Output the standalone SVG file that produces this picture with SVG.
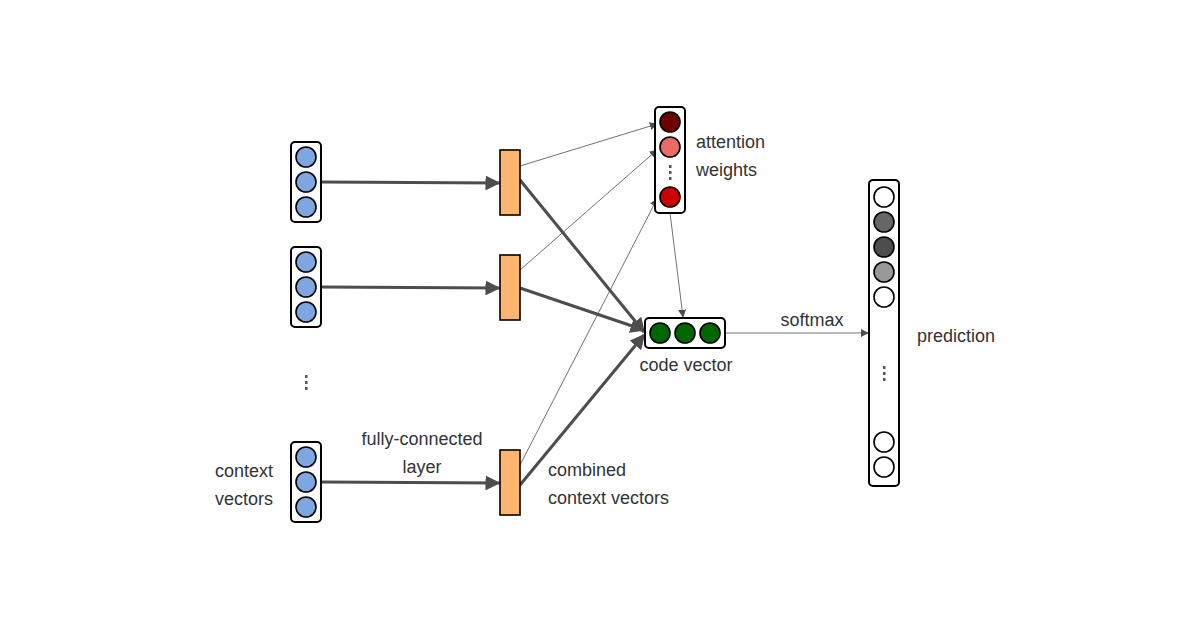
<svg xmlns="http://www.w3.org/2000/svg" width="1200" height="630" viewBox="0 0 1200 630">
<defs>
<style>
.box{fill:#fff;stroke:#000;stroke-width:2}
.c{stroke:#000;stroke-width:1.6}
.or{fill:#FFB570;stroke:#000;stroke-width:1.6}
.thick{stroke:#4d4d4d;stroke-width:3;fill:none}
.thin{stroke:#4d4d4d;stroke-width:0.8;fill:none}
text{font-family:"Liberation Sans",Arial,sans-serif;font-size:18px;fill:#333}
.dot{fill:#555}
</style>
<marker id="ab" viewBox="0 0 10 10" refX="9" refY="5" markerWidth="5" markerHeight="5" orient="auto" markerUnits="strokeWidth"><path d="M0,0L10,5L0,10z" fill="#4d4d4d"/></marker>
<marker id="as" viewBox="0 0 10 10" refX="9" refY="5" markerWidth="10" markerHeight="10" orient="auto" markerUnits="strokeWidth"><path d="M0,0L10,5L0,10z" fill="#4d4d4d"/></marker>
</defs>
<rect width="1200" height="630" fill="#fff"/>
<g id="connectors">
<path class="thick" marker-end="url(#ab)" d="M321,182L499,183"/>
<path class="thick" marker-end="url(#ab)" d="M321,287L499,288"/>
<path class="thick" marker-end="url(#ab)" d="M321,482L499,483"/>
<path class="thick" marker-end="url(#ab)" d="M520,180L644,332"/>
<path class="thick" marker-end="url(#ab)" d="M520,288L644,330"/>
<path class="thick" marker-end="url(#ab)" d="M520,485L644,335"/>
<path class="thin" marker-end="url(#as)" d="M520,166L657,124"/>
<path class="thin" marker-end="url(#as)" d="M520,270L657,150"/>
<path class="thin" marker-end="url(#as)" d="M520,465L657,199"/>
<path class="thin" marker-end="url(#as)" d="M670,213L683,317"/>
<path class="thin" marker-end="url(#as)" d="M725,333L868,333"/>
</g>
<g id="ctx1"><rect class="box" x="291" y="142" width="30" height="80" rx="4"/><circle class="c" cx="306" cy="157" r="10" fill="#7EA6E0"/><circle class="c" cx="306" cy="182" r="10" fill="#7EA6E0"/><circle class="c" cx="306" cy="207" r="10" fill="#7EA6E0"/></g>
<g id="ctx2"><rect class="box" x="291" y="247" width="30" height="80" rx="4"/><circle class="c" cx="306" cy="262" r="10" fill="#7EA6E0"/><circle class="c" cx="306" cy="287" r="10" fill="#7EA6E0"/><circle class="c" cx="306" cy="312" r="10" fill="#7EA6E0"/></g>
<g id="ctxdots"><rect class="dot" x="305" y="375" width="2.5" height="3"/><rect class="dot" x="305" y="381" width="2.5" height="3"/><rect class="dot" x="305" y="387" width="2.5" height="3"/></g>
<g id="ctx3"><rect class="box" x="291" y="442" width="30" height="80" rx="4"/><circle class="c" cx="306" cy="457" r="10" fill="#7EA6E0"/><circle class="c" cx="306" cy="482" r="10" fill="#7EA6E0"/><circle class="c" cx="306" cy="507" r="10" fill="#7EA6E0"/></g>
<g id="fc1"><rect class="or" x="500" y="150" width="20" height="65"/></g>
<g id="fc2"><rect class="or" x="500" y="255" width="20" height="65"/></g>
<g id="fc3"><rect class="or" x="500" y="450" width="20" height="65"/></g>
<g id="attention"><rect class="box" x="655" y="107" width="30" height="106" rx="4"/><circle class="c" cx="670" cy="122" r="10" fill="#6F0000"/><circle class="c" cx="670" cy="147" r="10" fill="#EA6B66"/><rect class="dot" x="669" y="165" width="2.5" height="3"/><rect class="dot" x="669" y="171" width="2.5" height="3"/><rect class="dot" x="669" y="177" width="2.5" height="3"/><circle class="c" cx="670" cy="197" r="10" fill="#CC0000"/></g>
<g id="code"><rect class="box" x="645" y="318" width="80" height="30" rx="4"/><circle class="c" cx="660" cy="333" r="10" fill="#006600"/><circle class="c" cx="685" cy="333" r="10" fill="#006600"/><circle class="c" cx="710" cy="333" r="10" fill="#006600"/></g>
<g id="prediction"><rect class="box" x="869" y="180" width="30" height="306" rx="4"/>
<circle class="c" cx="884" cy="197" r="10" fill="#fff"/><circle class="c" cx="884" cy="222" r="10" fill="#666"/><circle class="c" cx="884" cy="247" r="10" fill="#4d4d4d"/><circle class="c" cx="884" cy="272" r="10" fill="#999"/><circle class="c" cx="884" cy="297" r="10" fill="#fff"/>
<rect class="dot" x="883" y="366" width="2.5" height="3"/><rect class="dot" x="883" y="372" width="2.5" height="3"/><rect class="dot" x="883" y="378" width="2.5" height="3"/>
<circle class="c" cx="884" cy="442" r="10" fill="#fff"/><circle class="c" cx="884" cy="467" r="10" fill="#fff"/></g>
<g id="labels">
<text x="696" y="148">attention</text><text x="696" y="176">weights</text>
<text x="686" y="371" text-anchor="middle">code vector</text>
<text x="812" y="326" text-anchor="middle">softmax</text>
<text x="917" y="342">prediction</text>
<text x="422" y="445" text-anchor="middle">fully-connected</text><text x="422" y="473" text-anchor="middle">layer</text>
<text x="548" y="476">combined</text><text x="548" y="504">context vectors</text>
<text x="244" y="477" text-anchor="middle">context</text><text x="244" y="505" text-anchor="middle">vectors</text>
</g>
</svg>
